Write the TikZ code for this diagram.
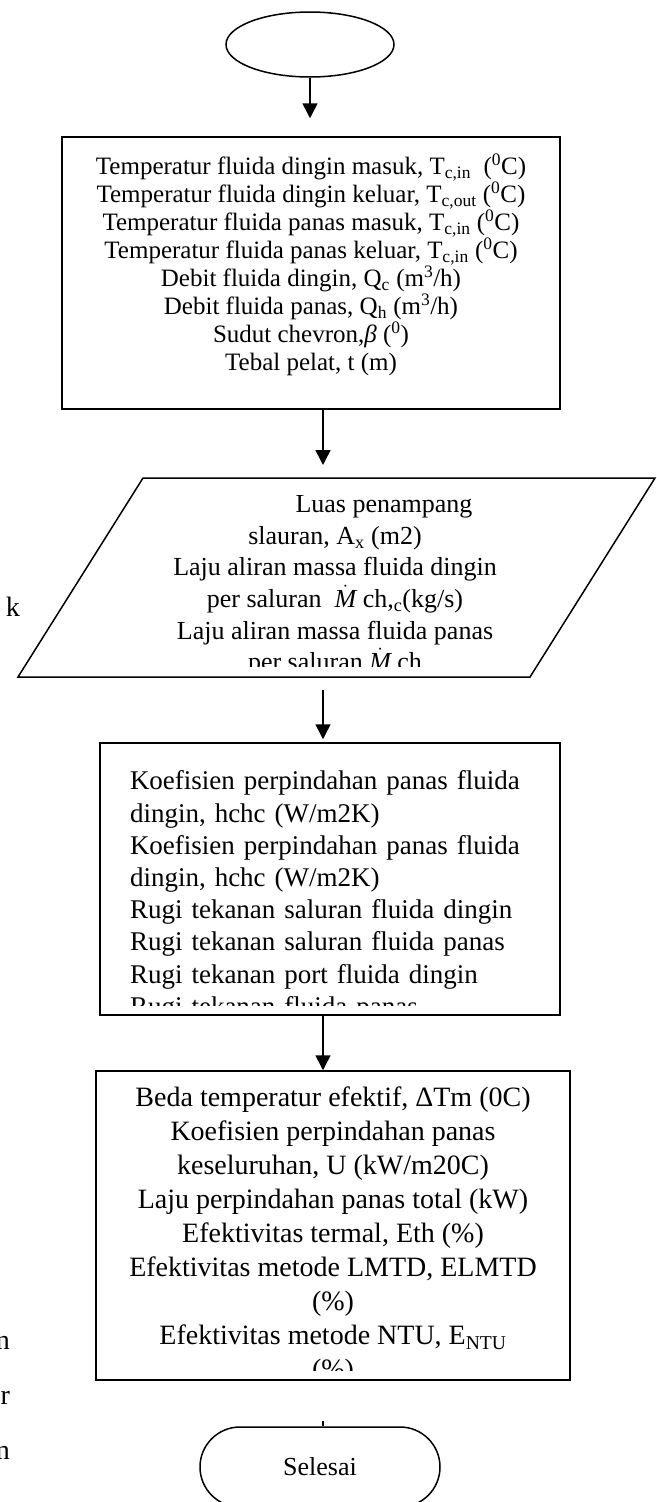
\documentclass[tikz,border=0pt]{standalone}
\usepackage{fontspec}
\setmainfont{Liberation Serif}
\usetikzlibrary{arrows.meta,shapes.geometric}

\begin{document}
\begin{tikzpicture}[x=1pt,y=-1pt,>={Triangle[width=15pt,length=15pt]},line width=1.5pt]
\useasboundingbox (0,0) rectangle (656,1502);
\tikzset{
  box/.style={draw,rectangle,inner sep=0pt},
  txt/.style={inner sep=0pt,align=center},
  stray/.style={anchor=east,font=\fontsize{28}{28}\selectfont},
}
% outlines
\node[draw,ellipse,minimum width=168pt,minimum height=65pt] (start) at (310,44.5) {};
\node[box,minimum width=498pt,minimum height=272pt] (input) at (311,273) {};
\draw (143,478) -- (655,478) -- (530,677) -- (18,677) -- cycle;
\coordinate (calctop) at (335,478);
\coordinate (calcbot) at (335,677);
\node[box,minimum width=460pt,minimum height=272pt] (coef) at (330,879) {};
\node[box,minimum width=474pt,minimum height=309pt] (result) at (333,1225.5) {};
\node[draw,rounded corners=40pt,minimum width=240pt,minimum height=80pt,
  font=\fontsize{26}{30}\selectfont] (stop) at (320,1467) {Selesai};
% texts
\node[txt,font=\fontsize{25}{28}\selectfont] (inputtxt) at (311,265) {%
Temperatur fluida dingin masuk, T\textsubscript{c,in}~ (\textsuperscript{0}C)\\
Temperatur fluida dingin keluar, T\textsubscript{c,out} (\textsuperscript{0}C)\\
Temperatur fluida panas masuk, T\textsubscript{c,in} (\textsuperscript{0}C)\\
Temperatur fluida panas keluar, T\textsubscript{c,in} (\textsuperscript{0}C)\\
Debit fluida dingin, Q\textsubscript{c} (m\textsuperscript{3}/h)\\
Debit fluida panas, Q\textsubscript{h} (m\textsuperscript{3}/h)\\
Sudut chevron,\textit{β} (\textsuperscript{0})\\
Tebal pelat, t (m)};
\begin{scope}
\clip (0,478) rectangle (656,666);
\node[txt,font=\fontsize{26}{31.6}\selectfont] (calctxt) at (335,586) {%
\hspace*{98pt}Luas penampang\\
slauran, A\textsubscript{x} (m2)\\
Laju aliran massa fluida dingin\\
per saluran~ $\dot{\textit{M}}$ ch,\textsubscript{c}(kg/s)\\
Laju aliran massa fluida panas\\
per saluran $\dot{\textit{M}}$ ch};
\end{scope}
\begin{scope}
\clip (100,743) rectangle (560,1005);
\node[txt,align=left,text width=400pt,font=\fontsize{27}{32.2}\selectfont] (coeftxt) at (330,896) {%
\makebox[400pt][s]{Koefisien perpindahan panas fluida}\\
dingin, hchc (W/m2K)\\
\makebox[400pt][s]{Koefisien perpindahan panas fluida}\\
dingin, hchc (W/m2K)\\
Rugi tekanan saluran fluida dingin\\
Rugi tekanan saluran fluida panas\\
Rugi tekanan port fluida dingin\\
Rugi tekanan fluida panas};
\end{scope}
\begin{scope}
\clip (96,1071) rectangle (570,1370);
\node[txt,font=\fontsize{28}{34}\selectfont] (resulttxt) at (333,1236) {%
Beda temperatur efektif, ΔTm (0C)\\
Koefisien perpindahan panas\\
keseluruhan, U (kW/m20C)\\
Laju perpindahan panas total (kW)\\
Efektivitas termal, Eth (\%)\\
Efektivitas metode LMTD, ELMTD\\
(\%)\\
Efektivitas metode NTU, E\textsubscript{NTU}\\
(\%)};
\end{scope}
% stray letters at the margin
\node[stray] (k) at (24,607) {k};
\node[stray] (n1) at (14,1343) {n};
\node[stray] (r) at (14,1398) {r};
\node[stray] (n2) at (14,1453) {n};
% connectors
\coordinate (axis) at (323,0);
\coordinate (tick) at (323,1421);
\draw[->,shorten >=18pt] (start.south) -- (start.south |- input.north);
\draw[->,shorten >=13pt] (input.south -| axis) -- (calctop -| axis);
\draw[->,shorten <=13pt,shorten >=3pt] (calcbot -| axis) -- (coef.north -| axis);
\draw[->] (coef.south -| axis) -- (result.north -| axis);
\draw (tick) -- (stop.north -| tick);
\end{tikzpicture}
\end{document}
